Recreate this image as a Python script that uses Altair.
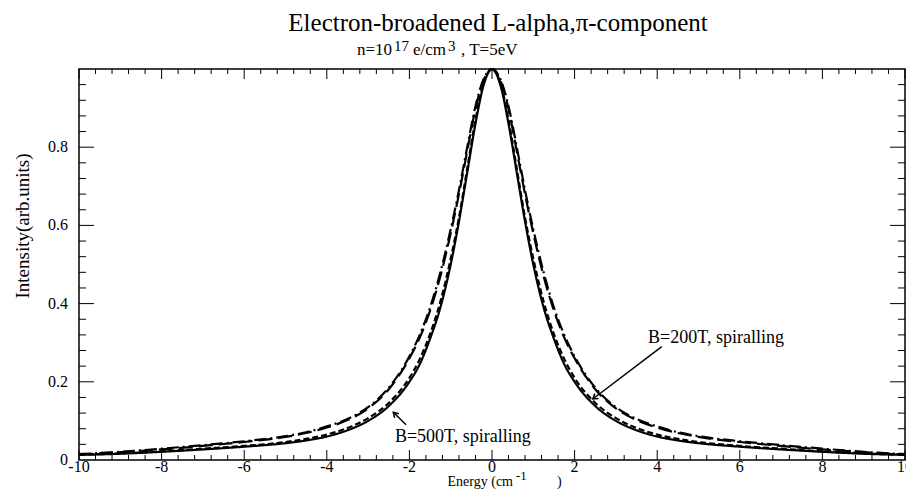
import altair as alt
import pandas as pd

# ---------------- data ----------------
energy = [-10, -9, -8, -7, -6, -5, -4.5, -4, -3.5, -3, -2.5, -2, -1.75, -1.5, -1.25, -1,
          -0.8, -0.6, -0.4, -0.2, 0, 0.2, 0.4, 0.6, 0.8, 1, 1.25, 1.5, 1.75, 2, 2.5, 3,
          3.5, 4, 4.5, 5, 6, 7, 8, 9, 10]

solid = [0.013, 0.016, 0.021, 0.027, 0.034, 0.043, 0.050, 0.060, 0.076, 0.100, 0.138, 0.200,
         0.245, 0.310, 0.390, 0.500, 0.610, 0.735, 0.860, 0.960, 1.000, 0.960, 0.860, 0.735,
         0.610, 0.500, 0.390, 0.310, 0.245, 0.200, 0.138, 0.100, 0.076, 0.060, 0.050, 0.043,
         0.034, 0.027, 0.021, 0.016, 0.013]

dashed = [0.014, 0.017, 0.022, 0.029, 0.036, 0.046, 0.054, 0.065, 0.082, 0.107, 0.146, 0.210,
          0.258, 0.322, 0.405, 0.515, 0.620, 0.745, 0.870, 0.965, 1.000, 0.965, 0.870, 0.745,
          0.620, 0.515, 0.405, 0.322, 0.258, 0.210, 0.146, 0.107, 0.082, 0.065, 0.054, 0.046,
          0.036, 0.029, 0.022, 0.017, 0.014]

longdash = [0.014, 0.020, 0.027, 0.036, 0.046, 0.059, 0.069, 0.083, 0.102, 0.132, 0.181, 0.260,
            0.313, 0.382, 0.470, 0.580, 0.680, 0.790, 0.898, 0.972, 1.000, 0.972, 0.898, 0.790,
            0.680, 0.580, 0.470, 0.382, 0.313, 0.260, 0.181, 0.132, 0.102, 0.083, 0.069, 0.059,
            0.046, 0.036, 0.027, 0.020, 0.014]

dashdot = [0.015, 0.021, 0.029, 0.038, 0.048, 0.061, 0.071, 0.086, 0.105, 0.135, 0.185, 0.265,
           0.320, 0.390, 0.480, 0.590, 0.690, 0.800, 0.905, 0.975, 1.000, 0.975, 0.905, 0.800,
           0.690, 0.590, 0.480, 0.390, 0.320, 0.265, 0.185, 0.135, 0.105, 0.086, 0.071, 0.061,
           0.048, 0.038, 0.029, 0.021, 0.015]

series_names = ["solid", "dashed", "longdash", "dashdot"]
series_dash = [[1, 0], [6, 3], [14, 6], [12, 4, 2, 4]]

x_major = [-10, -8, -6, -4, -2, 0, 2, 4, 6, 8, 10]
x_tick_labels = ["-10", "-8", "-6", "-4", "-2", "0", "2", "4", "6", "8", "10"]
x_minor = [-9.6, -9.2, -8.8, -8.4, -7.6, -7.2, -6.8, -6.4, -5.6, -5.2, -4.8, -4.4,
           -3.6, -3.2, -2.8, -2.4, -1.6, -1.2, -0.8, -0.4, 0.4, 0.8, 1.2, 1.6,
           2.4, 2.8, 3.2, 3.6, 4.4, 4.8, 5.2, 5.6, 6.4, 6.8, 7.2, 7.6, 8.4, 8.8, 9.2, 9.6]
y_label_values = [0, 0.2, 0.4, 0.6, 0.8]
y_tick_labels = ["0", "0.2", "0.4", "0.6", "0.8"]
y_major = [0.2, 0.4, 0.6, 0.8]
y_minor = [0.04, 0.08, 0.12, 0.16, 0.24, 0.28, 0.32, 0.36, 0.44, 0.48, 0.52, 0.56,
           0.64, 0.68, 0.72, 0.76, 0.84, 0.88, 0.92, 0.96]

ann_labels = ["B=200T, spiralling", "B=500T, spiralling"]
ann_x = [3.78, -2.35]
ann_y = [0.313, 0.060]
arrow_x = [4.11, -2.08]
arrow_y = [0.290, 0.090]
arrow_x2 = [2.44, -2.39]
arrow_y2 = [0.156, 0.122]
arrow_angle = [233, 315]

title_text = "Electron-broadened L-alpha,\u03c0-component"
subtitle_parts = ["n=10", "17", "e/cm", "3", ", T=5eV"]
subtitle_super = [False, True, False, True, False]
xtitle_parts = ["Energy (cm", "-1", ")"]
xtitle_super = [False, True, False]
y_title = "Intensity(arb.units)"

# ---------------- build ----------------
FONT = "Liberation Serif"
W, H = 826, 391

rows = []
for name, vals in zip(series_names, [solid, dashed, longdash, dashdot]):
    for e, v in zip(energy, vals):
        rows.append({"energy": e, "intensity": v, "series": name})
df = pd.DataFrame(rows)

xs = alt.Scale(domain=[-10, 10], nice=False, zero=False)
ys = alt.Scale(domain=[0, 1.0], nice=False, zero=False)


def X(field):
    return alt.X(field, scale=xs, axis=None)


def Y(field):
    return alt.Y(field, scale=ys, axis=None)


curves = alt.Chart(df).mark_line(strokeWidth=2.2, interpolate="monotone", color="black").encode(
    x=X("energy:Q"),
    y=Y("intensity:Q"),
    strokeDash=alt.StrokeDash("series:N",
                              scale=alt.Scale(domain=series_names, range=series_dash),
                              legend=None),
    detail="series:N",
)


def xtick_layer(vals, length, top):
    d = pd.DataFrame({"energy": vals})
    if top:
        yy, yy2 = alt.value(0), alt.value(length)
    else:
        yy, yy2 = alt.value(H), alt.value(H - length)
    return alt.Chart(d).mark_rule(color="black", strokeWidth=1).encode(
        x=X("energy:Q"), y=yy, y2=yy2)


def ytick_layer(vals, length, right):
    d = pd.DataFrame({"intensity": vals})
    if right:
        xx, xx2 = alt.value(W), alt.value(W - length)
    else:
        xx, xx2 = alt.value(0), alt.value(length)
    return alt.Chart(d).mark_rule(color="black", strokeWidth=1).encode(
        y=Y("intensity:Q"), x=xx, x2=xx2)


ticks = [
    xtick_layer(x_major, 10, False), xtick_layer(x_minor, 5, False),
    xtick_layer(x_major, 10, True), xtick_layer(x_minor, 5, True),
    ytick_layer(y_major, 15, False), ytick_layer(y_minor, 7, False),
    ytick_layer(y_major, 15, True), ytick_layer(y_minor, 7, True),
]

xlab = alt.Chart(pd.DataFrame({"energy": x_major, "t": x_tick_labels})).mark_text(
    align="center", baseline="alphabetic", font=FONT, fontSize=16, color="black").encode(
    x=X("energy:Q"), y=alt.value(H + 12), text="t:N")
ylab = alt.Chart(pd.DataFrame({"intensity": y_label_values, "t": y_tick_labels})).mark_text(
    align="right", baseline="middle", font=FONT, fontSize=16, color="black").encode(
    y=Y("intensity:Q"), x=alt.value(-11), text="t:N")

ann_df = pd.DataFrame({"label": ann_labels, "energy": ann_x, "intensity": ann_y})
ann = alt.Chart(ann_df).mark_text(align="left", baseline="middle", font=FONT,
                                  fontSize=18, color="black").encode(
    x=X("energy:Q"), y=Y("intensity:Q"), text="label:N")

arr_df = pd.DataFrame({"energy": arrow_x, "intensity": arrow_y, "e2": arrow_x2,
                       "i2": arrow_y2, "angle": arrow_angle})
arrow_lines = alt.Chart(arr_df).mark_rule(color="black", strokeWidth=1.5).encode(
    x=X("energy:Q"), y=Y("intensity:Q"), x2="e2:Q", y2="i2:Q")
arrow_heads = alt.Chart(arr_df).transform_calculate(
    energy="datum.e2", intensity="datum.i2").mark_point(
    shape="M -0.55 0.9 L 0 0 L 0.55 0.9", filled=False, size=120,
    color="black", strokeWidth=1.5, opacity=1).encode(
    x=X("energy:Q"), y=Y("intensity:Q"),
    angle=alt.Angle("angle:Q", scale=None))


def text_layer(txt, px, py, size, align="center"):
    return alt.Chart(pd.DataFrame({"t": [txt]})).mark_text(
        align=align, baseline="alphabetic", font=FONT, fontSize=size,
        color="black").encode(text="t:N", x=alt.value(px), y=alt.value(py))


title_mark = text_layer(title_text, 419, -38, 25)
ytitle_mark = alt.Chart(pd.DataFrame({"t": [y_title]})).mark_text(
    align="center", baseline="middle", font=FONT, fontSize=19, color="black",
    angle=270).encode(text="t:N", x=alt.value(-56), y=alt.value(157))

sub_layers = []
for txt, sup, px in zip(subtitle_parts, subtitle_super, [278, 315, 334, 369, 382]):
    sub_layers.append(text_layer(txt, px, -18 if sup else -14, 15 if sup else 17,
                                 align="left"))

xt_layers = []
for txt, sup, px, al in zip(xtitle_parts, xtitle_super, [434, 437, 478],
                            ["right", "left", "left"]):
    xt_layers.append(text_layer(txt, px, H + 20 if sup else H + 26,
                                13 if sup else 14, align=al))

chart = alt.layer(curves, *ticks, xlab, ylab, arrow_lines, arrow_heads, ann, title_mark,
                  ytitle_mark, *sub_layers, *xt_layers).properties(
    width=W, height=H,
    autosize=alt.AutoSizeParams(type="none"),
    padding={"left": 71, "top": 61, "right": 1, "bottom": 29},
    background="white",
).configure_view(stroke="black", strokeWidth=1.5)

chart.save("out.html", embed_options={"renderer": "svg", "actions": False})
